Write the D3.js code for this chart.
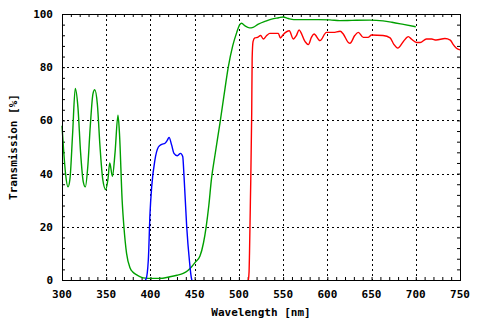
<!DOCTYPE html>
<html>
<head>
<meta charset="utf-8">
<script src="https://cdn.jsdelivr.net/npm/d3@7"></script>
<style>
  body { margin: 0; background: #fff; }
  text { font-family: "DejaVu Sans Mono", monospace; font-weight: bold; font-size: 11px; fill: #000; }
</style>
</head>
<body>
<div id="chart"></div>
<script>
//////////////////////////////  data  /////////////////////////////////
var xTicks = [300, 350, 400, 450, 500, 550, 600, 650, 700, 750];
var yTicks = [0, 20, 40, 60, 80, 100];

var greenNm  = [300, 302, 304, 306.8, 309, 312, 315, 318, 321, 324, 326.4, 329, 332, 335, 337, 340, 343, 346, 349.4, 352, 354, 357, 360, 363.3, 365, 368, 370, 373, 377, 380, 384.5, 390, 395, 400, 410, 422, 430, 437, 442, 446.6, 451, 456, 460, 463, 466, 469, 473, 478.6, 483, 488, 493, 497.5, 501, 503, 507, 512, 516, 522, 530, 537, 545, 550, 556, 562, 590, 603, 614, 628, 648, 663, 673, 686, 700];
var greenVal = [58, 48, 40, 35, 38, 55, 72, 65, 48, 37, 35, 42, 58, 70, 71.5, 66, 50, 38, 34, 38, 44, 39, 48, 62, 55, 30, 20, 10, 4.5, 3, 1.9, 1, 0.7, 0.6, 0.6, 1.2, 1.8, 2.5, 3.5, 5, 6.8, 9, 14, 20, 28, 38, 47, 59, 69, 80, 88, 93, 96, 96.5, 95.5, 94.8, 95, 96.2, 97.3, 98.1, 98.6, 98.9, 98.3, 97.9, 97.9, 97.8, 97.5, 97.6, 97.7, 97.4, 96.9, 96.1, 95.2];

var blueNm  = [394, 395, 397.6, 399.5, 401.4, 405, 409, 412.7, 416.5, 419, 421, 424, 426.6, 430.4, 434, 436.5, 438, 441, 444, 446.6, 447];
var blueVal = [0, 0.3, 7.5, 25, 35, 45, 50, 51, 51.4, 52.5, 53.6, 50.7, 47.6, 46.7, 47.6, 46.4, 38.8, 20, 7.5, 0.3, 0];

var redNm  = [510.7, 511.5, 512, 513, 514.5, 515, 516, 518, 521, 524.6, 527.6, 531.4, 535, 544.6, 547, 550, 557, 561.5, 565, 568, 574.7, 578.5, 582, 585, 591.7, 599, 606.8, 614.5, 618, 623.7, 625.6, 631, 635, 640.7, 646, 650, 663, 671, 675, 679.6, 686, 691.6, 695, 701, 705, 712, 718, 723, 733, 739, 742, 746, 750];
var redVal = [0, 3, 10, 29.4, 62.8, 83.3, 89.6, 91, 91.2, 91.9, 90.6, 91.9, 92.7, 92.7, 91, 92.2, 93.7, 90.6, 91.9, 94, 89.7, 88.5, 91.2, 92.5, 90, 93.1, 93.1, 93.5, 92.5, 89.3, 89, 91.9, 93.1, 91.2, 91.2, 92.1, 91.9, 91, 88.7, 87.2, 89.7, 91.5, 90.6, 89.3, 89.3, 90.6, 90.6, 90.2, 90.8, 90.2, 88.7, 87.1, 86.5];

//////////////////////////////  setup  /////////////////////////////////
var W = 480, H = 320;
var margin = {top: 14, right: 20, bottom: 40, left: 62};
var width = W - margin.left - margin.right;
var height = H - margin.top - margin.bottom;

var svg = d3.select("#chart").append("svg")
  .attr("width", W).attr("height", H);

svg.append("rect").attr("width", W).attr("height", H).attr("fill", "#fff");

var g = svg.append("g")
  .attr("transform", "translate(" + margin.left + "," + margin.top + ")");

var x = d3.scaleLinear().domain([300, 750]).range([0, width]);
var y = d3.scaleLinear().domain([0, 100]).range([height, 0]);

// grid
g.selectAll(".vgrid").data(xTicks.slice(1, -1)).enter().append("line")
  .attr("x1", function(d){ return Math.round(x(d)) + 0.5; })
  .attr("x2", function(d){ return Math.round(x(d)) + 0.5; })
  .attr("y1", 0).attr("y2", height)
  .attr("stroke", "#000").attr("stroke-dasharray", "2,3");
g.selectAll(".hgrid").data(yTicks.slice(1, -1)).enter().append("line")
  .attr("y1", function(d){ return Math.round(y(d)) + 0.5; })
  .attr("y2", function(d){ return Math.round(y(d)) + 0.5; })
  .attr("x1", 0).attr("x2", width)
  .attr("stroke", "#000").attr("stroke-dasharray", "2,3");

// minor ticks on all sides
var xMinor = d3.range(300, 751, 10);
var yMinor = d3.range(0, 101, 4);
function minorAxis(axis, vals, tr) {
  var a = g.append("g").attr("transform", tr)
    .call(axis.tickValues(vals).tickSize(-3).tickFormat(""));
  a.select(".domain").remove();
  a.selectAll("line").attr("stroke", "#000");
}
minorAxis(d3.axisBottom(x), xMinor, "translate(0," + height + ")");
minorAxis(d3.axisTop(x), xMinor, "translate(0,0)");
minorAxis(d3.axisLeft(y), yMinor, "translate(0,0)");
minorAxis(d3.axisRight(y), yMinor, "translate(" + width + ",0)");

// tick labels
g.selectAll(".xlab").data(xTicks).enter().append("text")
  .attr("x", function(d){ return x(d); })
  .attr("y", height + 18)
  .attr("text-anchor", "middle")
  .text(function(d){ return d; });
g.selectAll(".ylab").data(yTicks).enter().append("text")
  .attr("x", -9)
  .attr("y", function(d){ return y(d) + 4; })
  .attr("text-anchor", "end")
  .text(function(d){ return d; });

// series
var line = d3.line()
  .x(function(d){ return x(d[0]); })
  .y(function(d){ return y(d[1]); })
  .curve(d3.curveMonotoneX);

function drawSeries(nm, val, color) {
  g.append("path")
    .datum(d3.zip(nm, val))
    .attr("fill", "none")
    .attr("stroke", color)
    .attr("stroke-width", 1.4)
    .attr("d", line);
}
drawSeries(greenNm, greenVal, "#00a000");
drawSeries(blueNm, blueVal, "#0000ff");
drawSeries(redNm, redVal, "#ff0000");

// frame
g.append("rect")
  .attr("x", 0.5).attr("y", 0.5)
  .attr("width", width).attr("height", height)
  .attr("fill", "none").attr("stroke", "#000").attr("stroke-width", 1);

// axis titles
svg.append("text")
  .attr("x", margin.left + width / 2)
  .attr("y", 316)
  .attr("text-anchor", "middle")
  .text("Wavelength [nm]");
svg.append("text")
  .attr("transform", "translate(17," + (margin.top + height / 2) + ") rotate(-90)")
  .attr("text-anchor", "middle")
  .text("Transmission [%]");
</script>
</body>
</html>
